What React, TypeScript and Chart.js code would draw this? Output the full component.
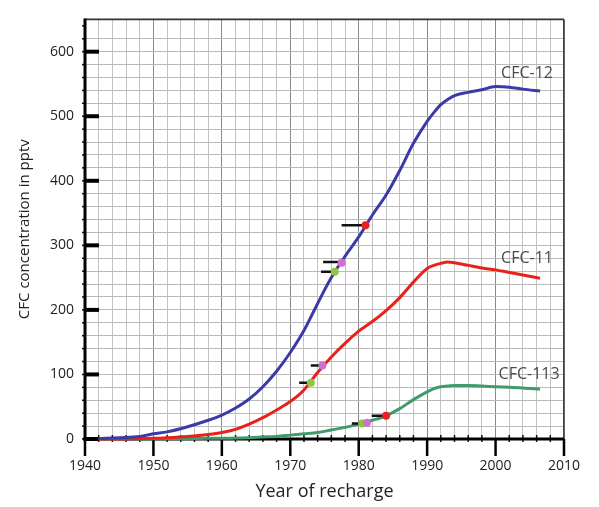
import React, { useEffect, useRef } from "react";
import { Chart, registerables } from "chart.js";
Chart.register(...registerables);

// Year of recharge (x) for the atmospheric curves
const years = [1942, 1945, 1948, 1950, 1952, 1955, 1958, 1960, 1962, 1964, 1966, 1968, 1970, 1972, 1974, 1976, 1978, 1980, 1982, 1984, 1986, 1988, 1990, 1991, 1992, 1993, 1994, 1996, 1998, 2000, 2002, 2004, 2006.5];
// CFC concentrations in pptv
const cfc12 = [0.5, 2, 4, 8, 11, 19, 29, 37, 48, 62, 81, 105, 134, 168, 210, 250, 283, 313, 347, 378, 416, 458, 492, 506, 518, 526, 532, 537, 541, 546, 545, 542, 539];
const cfc11 = [0, 0, 0.5, 1, 2, 4, 7, 10, 15, 23, 33, 45, 58, 76, 103, 127, 148, 167, 182, 199, 219, 243, 264, 269, 272, 274, 273, 269, 265, 262, 258, 254, 249];
const cfc113 = [0, 0, 0, 0.3, 0.4, 0.5, 1, 1, 1.5, 2, 3, 4, 6, 8, 10, 14, 18, 23, 29, 36, 47, 61, 73, 78, 81, 82, 83, 83, 82, 81, 80, 79, 77];

const seriesNames = ["CFC-12", "CFC-11", "CFC-113"];
const seriesColors = ["#3b3ba8", "#e8221b", "#3f9a6c"];

// Sample apparent-age markers (dot) with their age bars (dash)
const dotX = [1976.5, 1977.5, 1981, 1973, 1974.7, 1980.5, 1981.2, 1984];
const dotY = [259, 273, 331, 87, 114, 24, 25, 36];
const dotColors = ["#8dc63f", "#cf6fcf", "#ee1c24", "#8dc63f", "#cf6fcf", "#8dc63f", "#cf6fcf", "#ee1c24"];
const dashStartX = [1974.5, 1974.8, 1977.5, 1971.3, 1973.0, 1979.0, 1981.9];
const dashEndX = [1976.5, 1977.5, 1981, 1973, 1974.7, 1980.5, 1984];
const dashY = [259, 274, 331, 87, 114, 24, 36];

// Curve label anchors (year, pptv)
const labelX = [2004.6, 2004.6, 2004.9];
const labelY = [567, 280, 100];

const xMin = 1940, xMax = 2010, xStep = 2, xLabelStep = 10;
const yMin = 0, yMax = 650, yStep = 20, yLabelStep = 100;

const FONT = "'Open Sans', 'DejaVu Sans', sans-serif";

const decorPlugin = {
  id: "decor",
  beforeDatasetsDraw(chart: any) {
    const { ctx, chartArea, scales } = chart;
    const { left, right, top, bottom } = chartArea;
    const x = scales.x, y = scales.y;
    const line = (x1: number, y1: number, x2: number, y2: number) => {
      ctx.beginPath(); ctx.moveTo(x1, y1); ctx.lineTo(x2, y2); ctx.stroke();
    };
    ctx.save();
    ctx.lineCap = "butt";
    // top / right frame
    ctx.strokeStyle = "#333"; ctx.lineWidth = 1.6;
    line(left, top, right, top);
    line(right, top, right, bottom);
    // minor y ticks
    ctx.strokeStyle = "#111"; ctx.lineWidth = 1.5;
    for (let v = yMin; v < yMax; v += yStep) {
      const py = y.getPixelForValue(v);
      line(left - 3, py, left, py);
    }
    // minor x ticks
    for (let v = xMin; v <= xMax; v += xStep) {
      if (v % xLabelStep === 0) continue;
      const px = x.getPixelForValue(v);
      line(px, bottom - 4, px, bottom + 3);
    }
    // major x ticks
    ctx.strokeStyle = "#000"; ctx.lineWidth = 2.5;
    for (let v = xMin; v <= xMax; v += xLabelStep) {
      const px = x.getPixelForValue(v);
      line(px, bottom, px, bottom + 17);
    }
    // axis lines
    ctx.lineWidth = 3;
    line(left, top - 1, left, bottom + 2);
    line(left - 2, bottom, right, bottom);
    // major y ticks (inside)
    ctx.lineWidth = 4;
    for (let v = yMin; v <= 600; v += yLabelStep) {
      const py = y.getPixelForValue(v);
      line(left, py, left + 14, py);
    }
    ctx.restore();
  },
  afterDatasetsDraw(chart: any) {
    const { ctx, scales } = chart;
    ctx.save();
    ctx.fillStyle = "#4a4a4a";
    ctx.font = `16px ${FONT}`;
    ctx.textAlign = "center";
    ctx.textBaseline = "middle";
    seriesNames.forEach((n, i) => {
      ctx.fillText(n, scales.x.getPixelForValue(labelX[i]), scales.y.getPixelForValue(labelY[i]));
    });
    ctx.restore();
  },
};

export default function App() {
  const ref = useRef<HTMLCanvasElement>(null);
  useEffect(() => {
    if (!ref.current) return;
    const curves = [cfc12, cfc11, cfc113].map((vals, i) => ({
      label: seriesNames[i],
      data: years.map((yr, k) => ({ x: yr, y: vals[k] })),
      borderColor: seriesColors[i],
      borderWidth: 3,
      pointRadius: 0,
      fill: false,
      cubicInterpolationMode: "monotone" as const,
      clip: 6,
      order: 3,
    }));
    const dashes = dashStartX.map((sx, i) => ({
      label: "age" + i,
      data: [{ x: sx, y: dashY[i] }, { x: dashEndX[i], y: dashY[i] }],
      borderColor: "#111",
      borderWidth: 2.5,
      pointRadius: 0,
      order: 2,
    }));
    const dots = {
      label: "samples",
      data: dotX.map((dx, i) => ({ x: dx, y: dotY[i] })),
      showLine: false,
      pointRadius: 4,
      pointBorderWidth: 0,
      pointBackgroundColor: dotColors,
      borderColor: dotColors,
      order: 1,
    };
    const chart = new Chart(ref.current, {
      type: "line",
      data: { datasets: [...curves, ...dashes, dots] as any },
      plugins: [decorPlugin],
      options: {
        animation: false,
        responsive: false,
        layout: { padding: { top: 8, right: 16, left: 0, bottom: 0 } },
        plugins: { legend: { display: false }, tooltip: { enabled: false } },
        scales: {
          x: {
            type: "linear",
            min: xMin,
            max: xMax,
            afterFit: (s: any) => { s.height = 68; },
            border: { display: false },
            grid: {
              drawTicks: false,
              color: (c: any) => (c.tick && c.tick.value % xLabelStep === 0 ? "#8a8a8a" : "#c2c2c2"),
              lineWidth: 1,
            },
            ticks: {
              stepSize: xStep,
              autoSkip: false,
              maxTicksLimit: 100,
              maxRotation: 0,
              padding: 19,
              color: "#222",
              font: { family: FONT, size: 14 },
              callback: (v: any) => (Number(v) % xLabelStep === 0 ? String(v) : ""),
            },
            title: {
              display: true,
              text: "Year of recharge",
              color: "#222",
              font: { family: FONT, size: 18 },
              padding: { top: 0, bottom: 4 },
            },
          },
          y: {
            type: "linear",
            min: yMin,
            max: yMax,
            afterFit: (s: any) => { s.width = 85; },
            border: { display: false },
            grid: {
              drawTicks: false,
              color: "#bababa",
              lineWidth: 1,
            },
            ticks: {
              stepSize: yStep,
              autoSkip: false,
              maxTicksLimit: 100,
              padding: 11,
              color: "#222",
              font: { family: FONT, size: 14 },
              callback: (v: any) => (Number(v) % yLabelStep === 0 && Number(v) <= 600 ? String(v) : ""),
            },
            title: {
              display: true,
              text: "CFC concentration in pptv",
              color: "#222",
              font: { family: FONT, size: 15 },
              padding: { top: 16, bottom: 0 },
            },
          },
        },
      },
    });
    return () => chart.destroy();
  }, []);
  return (
    <div style={{ position: "absolute", left: 0, top: 0, width: 599, height: 507, background: "#fff" }}>
      <canvas ref={ref} width={599} height={507} />
    </div>
  );
}
